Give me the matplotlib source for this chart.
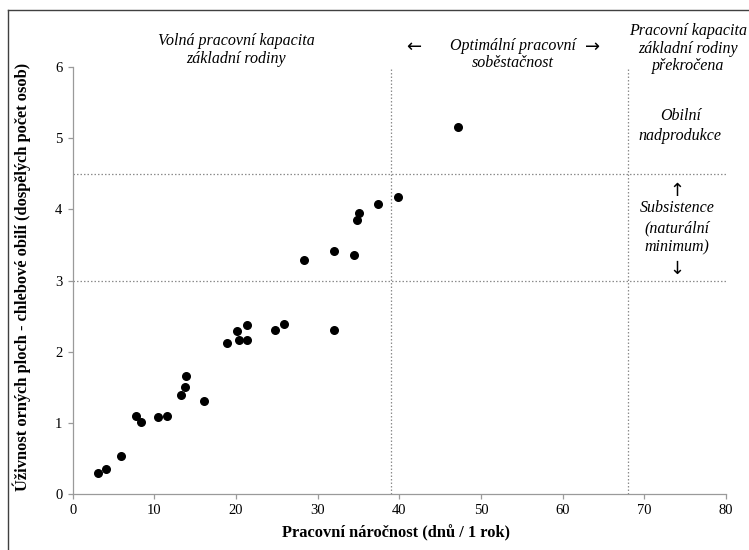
import matplotlib
matplotlib.use("Agg")
import matplotlib.pyplot as plt
from matplotlib.lines import Line2D

plt.rcParams['font.family'] = ['Liberation Serif', 'DejaVu Serif']

# pracovní náročnost (dnů / 1 rok) a úživnost (dospělých osob)
prace = [3.1, 4.1, 5.9, 7.8, 8.4, 10.5, 11.6, 13.2, 13.7, 13.9, 16.1,
         18.9, 20.1, 20.4, 21.4, 21.4, 24.8, 25.9, 32.0,
         28.3, 32.0, 34.4, 34.8, 35.1, 37.4, 39.8, 47.2]
uzivnost = [0.30, 0.35, 0.53, 1.09, 1.01, 1.08, 1.10, 1.385, 1.50, 1.66, 1.31,
            2.12, 2.29, 2.16, 2.17, 2.37, 2.31, 2.39, 2.30,
            3.29, 3.42, 3.36, 3.85, 3.95, 4.07, 4.17, 5.16]

hranice_x = [39, 68]
hranice_y = [3, 4.5]

fig = plt.figure(figsize=(7.49, 5.5), dpi=100)
ax = fig.add_axes([0.0971, 0.1018, 0.8722, 0.7762])

grey = '#9a9a9a'
for x in hranice_x:
    ax.axvline(x, color='#8c8c8c', lw=0.9, ls=(0, (1.2, 1.6)), zorder=1)
for y in hranice_y:
    ax.axhline(y, color='#8c8c8c', lw=0.9, ls=(0, (1.2, 1.6)), zorder=1)

ax.scatter(prace, uzivnost, s=30, color='black', zorder=3)

ax.set_xlim(0, 80)
ax.set_ylim(0, 6)
ax.set_xticks(range(0, 81, 10))
ax.set_yticks(range(0, 7))
for s in ['top', 'right']:
    ax.spines[s].set_visible(False)
for s in ['left', 'bottom']:
    ax.spines[s].set_color(grey)
    ax.spines[s].set_linewidth(0.9)
ax.tick_params(direction='out', length=3.5, width=0.9, color=grey,
               labelsize=10.5, pad=4)

it = dict(style='italic', fontsize=11.5, ha='center', va='center', clip_on=False)
sipka = dict(fontsize=13, family='DejaVu Sans', ha='center', va='center', clip_on=False)
ax.text(20, 6.24, 'Volná pracovní kapacita\nzákladní rodiny', linespacing=1.12, **it)
ax.text(53.9, 6.18, 'Optimální pracovní\nsoběstačnost', linespacing=1.12, **it)
ax.text(41.7, 6.28, '←', **sipka)
ax.text(63.6, 6.28, '→', **sipka)
ax.text(75.4, 6.26, 'Pracovní kapacita\nzákladní rodiny\npřekročena', linespacing=1.12, **it)
ax.text(74.4, 5.17, 'Obilní\nnadprodukce', linespacing=1.3, **it)
ax.text(74.0, 3.74, 'Subsistence\n(naturální\nminimum)', linespacing=1.3, **it)
ax.text(74.0, 4.26, '↑', **sipka)
ax.text(74.0, 3.17, '↓', **sipka)

fig.text(0.529, 0.031, 'Pracovní náročnost (dnů / 1 rok)', fontsize=11.8,
         fontweight='bold', ha='center', va='center')
fig.text(0.029, 0.496, 'Úživnost orných ploch - chlebové obilí (dospělých počet osob)',
         fontsize=11.8, fontweight='bold', ha='center', va='center', rotation=90)

# rámeček grafu (vlevo a nahoře)
fig.add_artist(Line2D([8 / 749, 8 / 749], [0, 1 - 10 / 550], color='#404040', lw=1.0))
fig.add_artist(Line2D([8 / 749, 1], [1 - 10 / 550, 1 - 10 / 550], color='#404040', lw=1.0))

fig.savefig('out.png', dpi=100)
